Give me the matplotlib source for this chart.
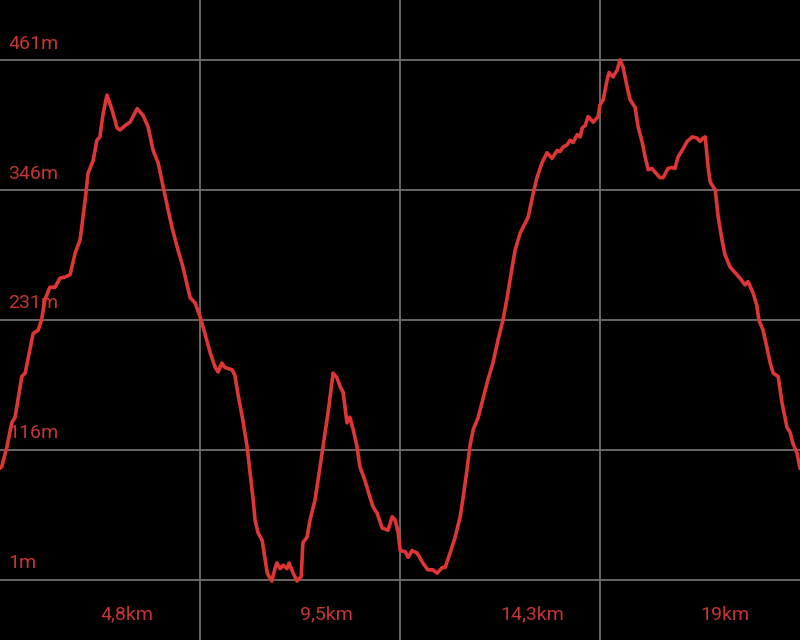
import numpy as np
import matplotlib.pyplot as plt

plt.rcParams['font.family'] = ['Roboto', 'DejaVu Sans']

# distance along the track (km) and elevation (m)
distance_km = [
    0.00, 0.04, 0.16, 0.28, 0.36, 0.52, 0.60, 0.79, 0.91, 0.99, 1.07, 1.19, 1.31, 1.43,
    1.55, 1.67, 1.79, 1.91, 2.03, 2.10, 2.22, 2.31, 2.38, 2.46, 2.55, 2.67, 2.79, 2.86,
    2.98, 3.10, 3.27, 3.41, 3.53, 3.65, 3.77, 3.89, 4.01, 4.10, 4.22, 4.36, 4.53, 4.65,
    4.77, 4.93, 5.01, 5.13, 5.20, 5.29, 5.36, 5.53, 5.60, 5.67, 5.79, 5.89, 5.96, 6.03,
    6.08, 6.15, 6.25, 6.32, 6.37, 6.48, 6.56, 6.60, 6.68, 6.75, 6.84, 6.89, 6.99, 7.08,
    7.18, 7.22, 7.32, 7.39, 7.51, 7.58, 7.70, 7.82, 7.94, 8.03, 8.11, 8.18, 8.27, 8.34,
    8.42, 8.51, 8.58, 8.70, 8.82, 8.89, 8.99, 9.11, 9.25, 9.35, 9.42, 9.49, 9.54, 9.66,
    9.73, 9.82, 9.94, 10.08, 10.20, 10.32, 10.42, 10.54, 10.61, 10.73, 10.85, 10.97,
    11.04, 11.13, 11.20, 11.28, 11.40, 11.49, 11.63, 11.75, 11.87, 11.99, 12.09, 12.21,
    12.28, 12.40, 12.59, 12.71, 12.80, 12.92, 13.04, 13.16, 13.28, 13.35, 13.42, 13.52,
    13.59, 13.66, 13.76, 13.83, 13.88, 13.95, 14.02, 14.14, 14.26, 14.30, 14.38, 14.47,
    14.52, 14.61, 14.71, 14.78, 14.85, 14.95, 15.02, 15.14, 15.21, 15.31, 15.38, 15.45,
    15.54, 15.61, 15.73, 15.81, 15.92, 16.02, 16.09, 16.16, 16.26, 16.38, 16.50, 16.61,
    16.69, 16.76, 16.81, 16.88, 16.93, 17.05, 17.12, 17.21, 17.28, 17.40, 17.52, 17.64,
    17.76, 17.83, 17.95, 18.04, 18.09, 18.19, 18.28, 18.36, 18.43, 18.55, 18.64, 18.76,
    18.83, 18.90, 19.00, 19.07,
]
elevation_m = [
    100, 101, 118, 140, 145, 181, 184, 219, 222, 231, 249, 260, 260, 268,
    269, 271, 290, 302, 337, 361, 372, 390, 393, 414, 430, 417, 401, 399,
    403, 406, 418, 412, 402, 381, 370, 349, 328, 313, 296, 278, 251, 246,
    234, 213, 202, 189, 185, 193, 189, 187, 182, 166, 142, 119, 96, 74,
    54, 43, 36, 19, 7, 0, 12, 16, 11, 14, 11, 16, 7, 0,
    4, 34, 39, 54, 72, 89, 119, 149, 184, 180, 172, 167, 140, 145,
    134, 119, 101, 89, 74, 66, 60, 47, 45, 57, 54, 43, 27, 26,
    21, 27, 25, 16, 10, 10, 7, 12, 12, 25, 39, 57,
    74, 98, 119, 134, 145, 158, 178, 193, 213, 231, 251, 278,
    293, 308, 322, 343, 357, 370, 379, 374, 381, 380, 384, 386,
    390, 388, 395, 393, 401, 403, 411, 406, 411, 421, 426, 443,
    450, 446, 452, 461, 455, 437, 426, 419, 402, 388, 375, 364,
    365, 362, 357, 357, 365, 366, 365, 375, 381, 389, 393, 392,
    389, 392, 393, 366, 353, 346, 322, 302, 289, 278, 273, 268,
    262, 265, 255, 244, 231, 222, 207, 193, 184, 181, 158, 136,
    132, 122, 113, 100,
]

y_ticks = [1, 116, 231, 346, 461]
y_labels = ["1m", "116m", "231m", "346m", "461m"]
x_grid = [4.77, 9.54, 14.30]
x_labels = ["4,8km", "9,5km", "14,3km", "19km"]
total_km = 19.07

px = 72 / 100  # points per pixel at 100 dpi
label_color = "#c83434"

fig = plt.figure(figsize=(8, 6.4), dpi=100, facecolor="black")
ax = fig.add_axes([0, 0, 1, 1], facecolor="black")
ax.set_xlim(0, total_km)
ax.set_ylim(-52.1, 514.1)
for s in ax.spines.values():
    s.set_visible(False)
ax.set_xticks([])
ax.set_yticks([])

for y in y_ticks:
    ax.axhline(y, color="#6f6f6f", lw=1.3, zorder=1)
for x in x_grid:
    ax.axvline(x, color="#6f6f6f", lw=1.3, zorder=1)

ax.plot(distance_km, elevation_m, color="#e03535", lw=2.6,
        solid_joinstyle="round", zorder=3)

for y, lab in zip(y_ticks, y_labels):
    ax.annotate(lab, xy=(0, y), xycoords=("axes fraction", "data"),
                xytext=(8 * px, 11.5 * px), textcoords="offset points",
                ha="left", va="baseline", fontsize=14, color=label_color, zorder=2)

step = total_km / 4
for i, lab in enumerate(x_labels):
    ax.annotate(lab, xy=(step * (i + 0.5), 0), xycoords=("data", "axes fraction"),
                xytext=(0, 20.5 * px), textcoords="offset points",
                ha="left", va="baseline", fontsize=14, color=label_color)

fig.savefig("out.png", dpi=100, facecolor="black")
